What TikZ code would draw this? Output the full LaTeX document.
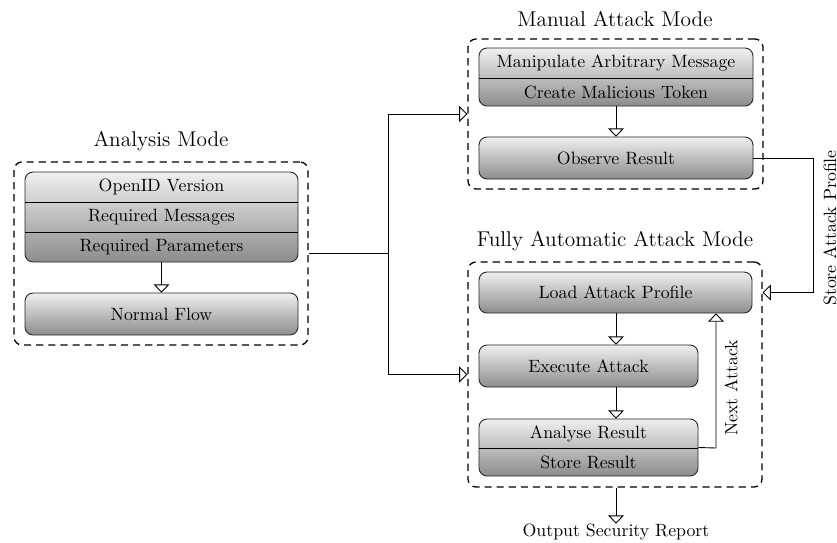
\documentclass[tikz,border=0pt]{standalone}
\usetikzlibrary{arrows.meta,calc}
\begin{document}
\begin{tikzpicture}[x=0.5618pt,y=-0.5618pt,
  box/.style={draw=black!85,line width=0.5pt,rounded corners=4.5pt,top color=black!6,bottom color=black!45,inner sep=0pt},
  grp/.style={draw,dashed,dash pattern=on 4pt off 2.8pt,line width=0.75pt,rounded corners=4.5pt,inner sep=0pt},
  lbl/.style={inner sep=0pt,font=\normalsize},
  ttl/.style={inner sep=0pt,font=\large},
  arr/.style={line width=0.5pt,-{Triangle[open,length=4.6pt,width=9pt,fill=white]}},
  ln/.style={line width=0.5pt},
  div/.style={line width=0.5pt}
]
\useasboundingbox (0,0) rectangle (837,542);
% Analysis
\node[grp,minimum width=294*0.5618pt,minimum height=183*0.5618pt] (analysis) at (161,253.5) {};
\node[ttl] (tanalysis) at (161,141) {Analysis Mode};
\node[box,minimum width=273*0.5618pt,minimum height=90*0.5618pt] (astack) at (161.5,217) {};
\draw[div] (25,202) -- (298,202) (25,232) -- (298,232);
\node[lbl] (a1) at (161.5,187) {OpenID Version};
\node[lbl] (a2) at (161.5,217) {Required Messages};
\node[lbl] (a3) at (161.5,247) {Required Parameters};
\node[box,minimum width=273*0.5618pt,minimum height=42*0.5618pt] (normal) at (161.5,314) {Normal Flow};
\draw[arr] (astack.south) -- (normal.north);
% Manual
\node[grp,minimum width=295*0.5618pt,minimum height=150*0.5618pt] (manual) at (615.5,114) {};
\node[ttl] (tmanual) at (615,19) {Manual Attack Mode};
\node[box,minimum width=274*0.5618pt,minimum height=58*0.5618pt] (mstack) at (616,77) {};
\draw[div] (479,78) -- (753,78);
\node[lbl] (m1) at (616,63) {Manipulate Arbitrary Message};
\node[lbl] (m2) at (616,92.5) {Create Malicious Token};
\node[box,minimum width=274*0.5618pt,minimum height=42*0.5618pt] (observe) at (616,158) {Observe Result};
\draw[arr] (mstack.south) -- (observe.north);
% Fully automatic
\node[grp,minimum width=294*0.5618pt,minimum height=225*0.5618pt] (fully) at (615,374.5) {};
\node[ttl] (tfully) at (615,241) {Fully Automatic Attack Mode};
\node[box,minimum width=273*0.5618pt,minimum height=41*0.5618pt] (load) at (615.5,292.5) {Load Attack Profile};
\node[box,minimum width=219*0.5618pt,minimum height=42*0.5618pt] (execute) at (588.5,366) {Execute Attack};
\node[box,minimum width=219*0.5618pt,minimum height=57*0.5618pt] (fstack) at (588.5,447.5) {};
\draw[div] (479,448) -- (698,448);
\node[lbl] (f1) at (588.5,433.5) {Analyse Result};
\node[lbl] (f2) at (588.5,462) {Store Result};
\draw[arr] (load.south -| 616,0) -- (execute.north -| 616,0);
\draw[arr] (execute.south -| 616,0) -- (fstack.north -| 616,0);
\coordinate (nx) at (716,448);
\draw[arr] (fstack.east) -- (nx) -- (nx |- load.south);
\node[lbl,rotate=90] (tnext) at (731,388) {Next Attack};
\node[lbl] (out) at (616,532) {Output Security Report};
\draw[arr] (fully.south -| 616,0) -- (out.north);
% connectors
\coordinate (split) at (388,253.5);
\draw[ln] (analysis.east) -- (split);
\draw[arr] (split) |- (manual.west);
\draw[arr] (split) |- (fully.west);
\coordinate (sp) at (813,158);
\draw[arr] (observe.east) -- (sp) |- (fully.east |- load.center);
\node[lbl,rotate=90] (tstore) at (830,228) {Store Attack Profile};
\end{tikzpicture}
\end{document}
